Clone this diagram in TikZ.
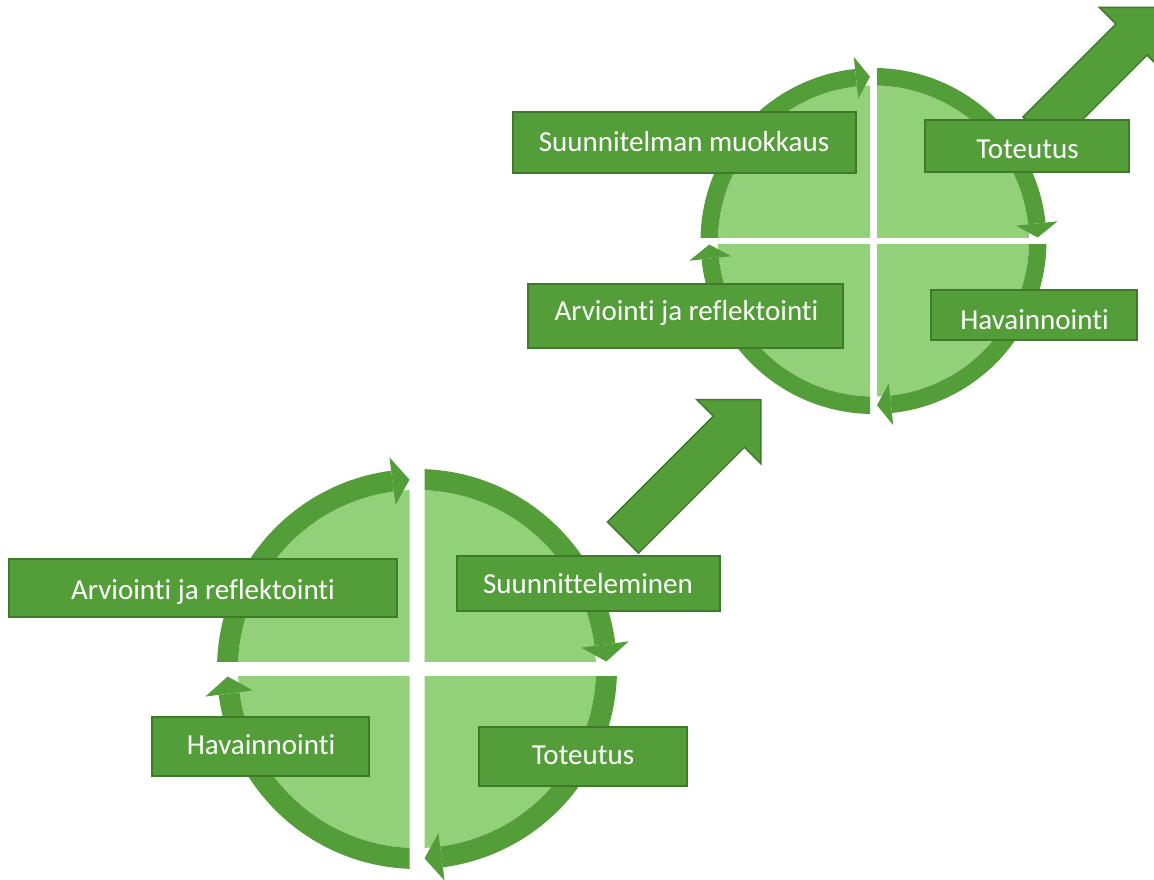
\documentclass[tikz,border=0pt]{standalone}
\usepackage{fontspec}
\setmainfont[Ligatures=NoCommon]{Carlito}
\definecolor{leafdark}{RGB}{84,158,58}
\definecolor{leaflight}{RGB}{146,208,122}
\definecolor{leafedge}{RGB}{61,122,41}

% One cycle wheel: four quarters, each with a light sector and a dark
% clockwise band ending in an arrow head.
% #1,#2 centre, #3 outer radius, #4 band width, #5 half gap,
% #6 head length, #7 head half width
\newcommand{\cyclering}[7]{%
  \foreach \rot in {0,-90,-180,-270} {%
    \begin{scope}[shift={(#1,#2)}, rotate=\rot]
      \pgfmathsetmacro\rIn{#3-#4}
      \pgfmathsetmacro\rMid{#3-#4/2}
      \pgfmathsetmacro\rLo{\rMid-#7}
      \pgfmathsetmacro\rHi{\rMid+#7}
      \pgfmathsetmacro\angTip{90+asin(#5/\rMid)}
      \pgfmathsetmacro\angBase{90+asin((#5+#6)/\rMid)}
      \begin{scope}
        \clip (-#3-40,#5) rectangle (-#5,#3+40);
        \fill[leaflight] (0,0) -- (180:\rIn)
          arc[start angle=180, end angle=90, radius=\rIn] -- cycle;
        \fill[leafdark] (180:\rIn) -- (180:#3)
          arc[start angle=180, end angle=\angBase, radius=#3]
          -- (\angBase:\rIn)
          arc[start angle=\angBase, end angle=180, radius=\rIn] -- cycle;
        \fill[leafdark] (\angBase:\rLo) -- (\angBase:\rHi) -- (\angTip:\rMid) -- cycle;
      \end{scope}
    \end{scope}}}

% Broad 45-degree arrow: #1,#2 tail centre, #3 shaft length
\newcommand{\stepupArrow}[3]{%
  \begin{scope}[shift={(#1,#2)}, rotate=45]
    \filldraw[fill=leafdark, draw=leafedge, line width=1.5, line join=miter]
      (0,-22) -- (#3,-22) -- (#3,-45.3) -- (#3+45.3,0) -- (#3,45.3)
      -- (#3,22) -- (0,22) -- cycle;
  \end{scope}}

\begin{document}
\begin{tikzpicture}[x=1pt, y=1pt,
  phasebox/.style={draw=leafedge, fill=leafdark, line width=2,
    rectangle, inner sep=0pt},
  phasetext/.style={text=white, anchor=base, inner sep=0pt,
    font=\fontsize{29}{34}\selectfont}]
  \useasboundingbox (0,0) rectangle (1154,879);
  \clip (0,0) rectangle (1154,879);

  % the two wheels
  \cyclering{417}{210}{200}{21}{7.5}{17}{24}
  \cyclering{873.5}{638}{173}{17.5}{3.5}{14}{21}

  % arrows leading up to the next round
  \stepupArrow{623}{341.5}{149.6}
  \stepupArrow{1038.5}{746.5}{131.5}

  % first round
  \node[phasebox, minimum width=388, minimum height=58] (b1) at (203,291) {};
  \node[phasetext] (t1) at (203,279.7) {Arviointi ja reflektointi};
  \node[phasebox, minimum width=263, minimum height=55] (b2) at (588.5,295.5) {};
  \node[phasetext] (t2) at (588,285) {Suunnitteleminen};
  \node[phasebox, minimum width=217, minimum height=59] (b3) at (260.5,132.5) {};
  \node[phasetext] (t3) at (261,125) {Havainnointi};
  \node[phasebox, minimum width=208, minimum height=59] (b4) at (583,122.5) {};
  \node[phasetext] (t4) at (583,115) {Toteutus};

  % second round
  \node[phasebox, minimum width=343, minimum height=60.5] (c1) at (684.5,736.25) {};
  \node[phasetext] (u1) at (684,727.3) {Suunnitelman muokkaus};
  \node[phasebox, minimum width=204, minimum height=52] (c2) at (1027,733) {};
  \node[phasetext] (u2) at (1027.5,720.7) {Toteutus};
  \node[phasebox, minimum width=315, minimum height=64] (c3) at (685.5,563) {};
  \node[phasetext] (u3) at (686.5,558.3) {Arviointi ja reflektointi};
  \node[phasebox, minimum width=206, minimum height=50] (c4) at (1034,564) {};
  \node[phasetext] (u4) at (1034.5,549) {Havainnointi};
\end{tikzpicture}
\end{document}
